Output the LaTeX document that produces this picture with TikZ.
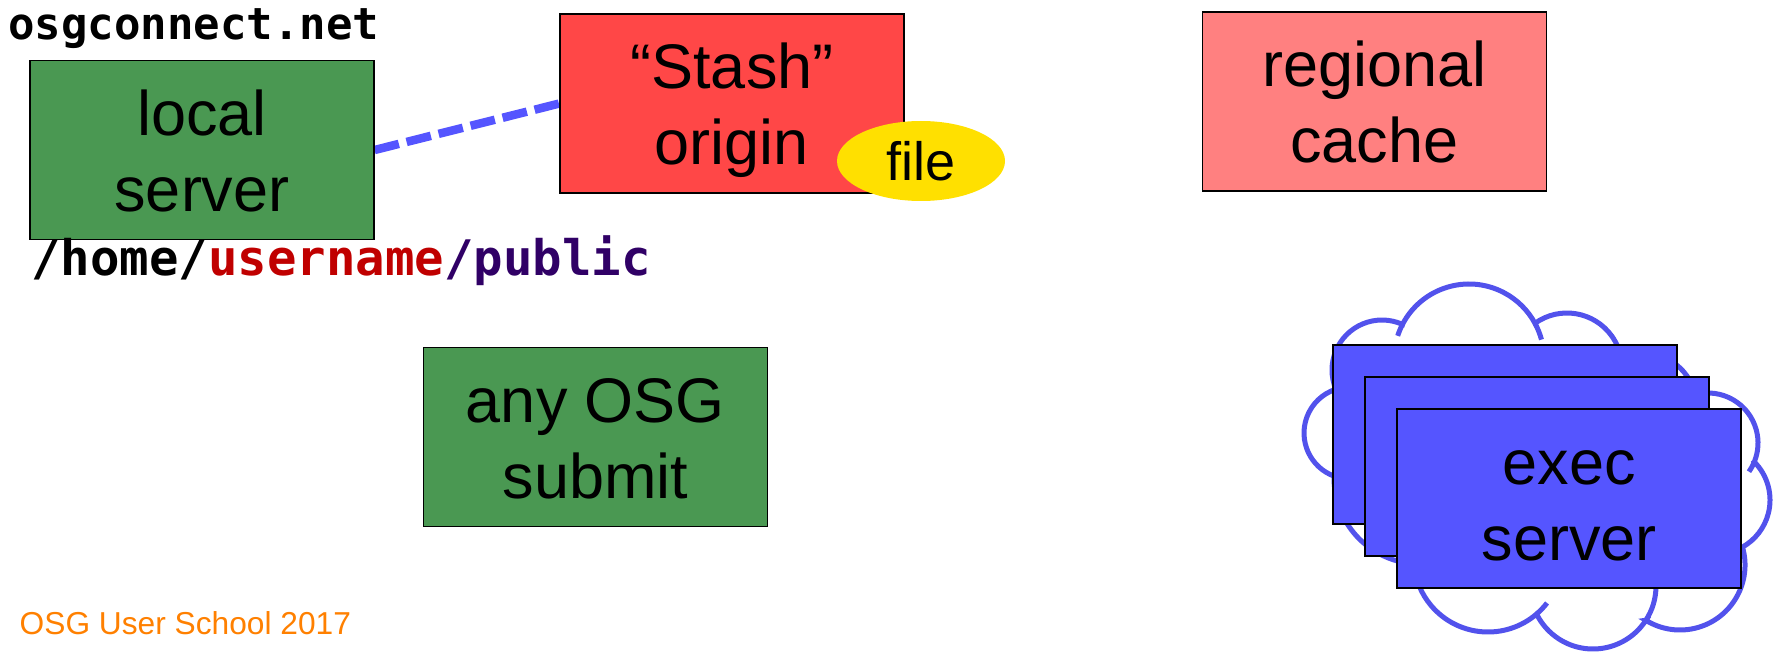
\documentclass[tikz,border=0pt]{standalone}
\usepackage{fontspec}
\setmainfont{Liberation Sans}
\newfontfamily\monof{DejaVu Sans Mono}
\usetikzlibrary{shapes.geometric}
\pgfdeclarelayer{background}
\pgfsetlayers{background,main}
\definecolor{srvgreen}{RGB}{74,152,82}
\definecolor{stashred}{RGB}{255,71,71}
\definecolor{cachepink}{RGB}{255,128,128}
\definecolor{execblue}{RGB}{85,85,255}
\definecolor{cloudblue}{RGB}{82,82,236}
\definecolor{fileyellow}{RGB}{255,224,0}
\definecolor{userred}{RGB}{192,0,0}
\definecolor{pubpurple}{RGB}{48,0,102}
\definecolor{footorange}{RGB}{255,128,0}
\newcommand\twol[2]{\vtop{\halign{\hfil##\hfil\cr #1\cr #2\cr}}}
\newcommand\bigf{\fontsize{63}{76}\selectfont}
\begin{document}
\begin{tikzpicture}[x=1pt,y=-1pt,
  bx/.style={draw=black, line width=1.2pt, minimum width=344pt, minimum height=179pt,
    inner sep=0pt, font=\bigf, text height=50pt, text depth=79pt},
  cloudline/.style={draw=cloudblue, line width=5pt},
  dashline/.style={draw=execblue, line width=8.5pt, dash pattern=on 25pt off 8pt},
  plain/.style={anchor=base west, inner sep=0pt}]
\path[use as bounding box] (0,0) rectangle (1776,652);

% cloud outline
\path[cloudline, fill=white]
  ([shift={(110.3:46)}]1350,433) arc[start angle=110.3, end angle=252.1, radius=46]
  -- ([shift={(157.3:50)}]1382,370) arc[start angle=157.3, end angle=294.2, radius=50]
  -- ([shift={(207.6:75)}]1469,359) arc[start angle=207.6, end angle=331.6, radius=75]
  -- ([shift={(234.4:55)}]1567,368) arc[start angle=234.4, end angle=351.4, radius=55]
  -- ([shift={(242.4:51)}]1645,405) arc[start angle=242.4, end angle=348.5, radius=51]
  -- ([shift={(254.9:50)}]1708,443) arc[start angle=254.9, end angle=382.1, radius=50]
  -- ([shift={(315.1:54)}]1716,500) arc[start angle=315.1, end angle=420.5, radius=54]
  -- ([shift={(344:65)}]1680,565) arc[start angle=344, end angle=481.8, radius=65]
  -- ([shift={(32.9:63)}]1593,586) arc[start angle=32.9, end angle=153.6, radius=63]
  -- ([shift={(49.4:74.5)}]1488,557.5) arc[start angle=49.4, end angle=175.2, radius=74.5]
  -- ([shift={(94.2:86)}]1420,478) arc[start angle=94.2, end angle=181.2, radius=86]
  -- cycle;
% cloud inner hooks
\draw[cloudline] ([shift={(198:75)}]1469,359) arc[start angle=198, end angle=207.6, radius=75];
\draw[cloudline] ([shift={(331.6:75)}]1469,359) arc[start angle=331.6, end angle=345, radius=75];
\draw[cloudline] ([shift={(22.1:50)}]1708,443) arc[start angle=22.1, end angle=35, radius=50];
\draw[cloudline] ([shift={(37.6:74.5)}]1488,557.5) arc[start angle=37.6, end angle=49.4, radius=74.5];
\draw[cloudline] ([shift={(0:63)}]1593,586) arc[start angle=0, end angle=32.9, radius=63];

% boxes
\node[bx, fill=srvgreen] (local) at (202,150) {\twol{local}{server}};
\node[bx, fill=stashred] (stash) at (732,103.5) {\twol{“Stash”}{origin}};
\node[bx, fill=cachepink] (cache) at (1374.5,101.5) {\twol{regional}{cache}};
\node[bx, fill=srvgreen] (submit) at (595.5,437) {\twol{any OSG}{submit}};
\node[bx, fill=execblue] (exec1) at (1505,434.5) {};
\node[bx, fill=execblue] (exec2) at (1537,466.5) {};
\node[bx, fill=execblue] (exec3) at (1569,498.5) {\twol{exec}{server}};
\node[ellipse, fill=fileyellow, minimum width=168pt, minimum height=80pt, inner sep=0pt,
  font=\fontsize{54}{60}\selectfont] (file) at (921,161) {file};

% texts
\node[plain, font=\monof\bfseries\fontsize{44}{50}\selectfont] (domain) at (8,40) {osgconnect.net};
\node[plain, font=\monof\bfseries\fontsize{49}{55}\selectfont] (path) at (31,275)
  {/home/\textcolor{userred}{username}\textcolor{pubpurple}{/public}};
\node[plain, font=\fontsize{31.7}{36}\selectfont, text=footorange] (footer) at (19.5,634) {OSG User School 2017};

% connector
\begin{pgfonlayer}{background}
\draw[dashline] (local.east) -- (stash.west);
\end{pgfonlayer}
\end{tikzpicture}
\end{document}
